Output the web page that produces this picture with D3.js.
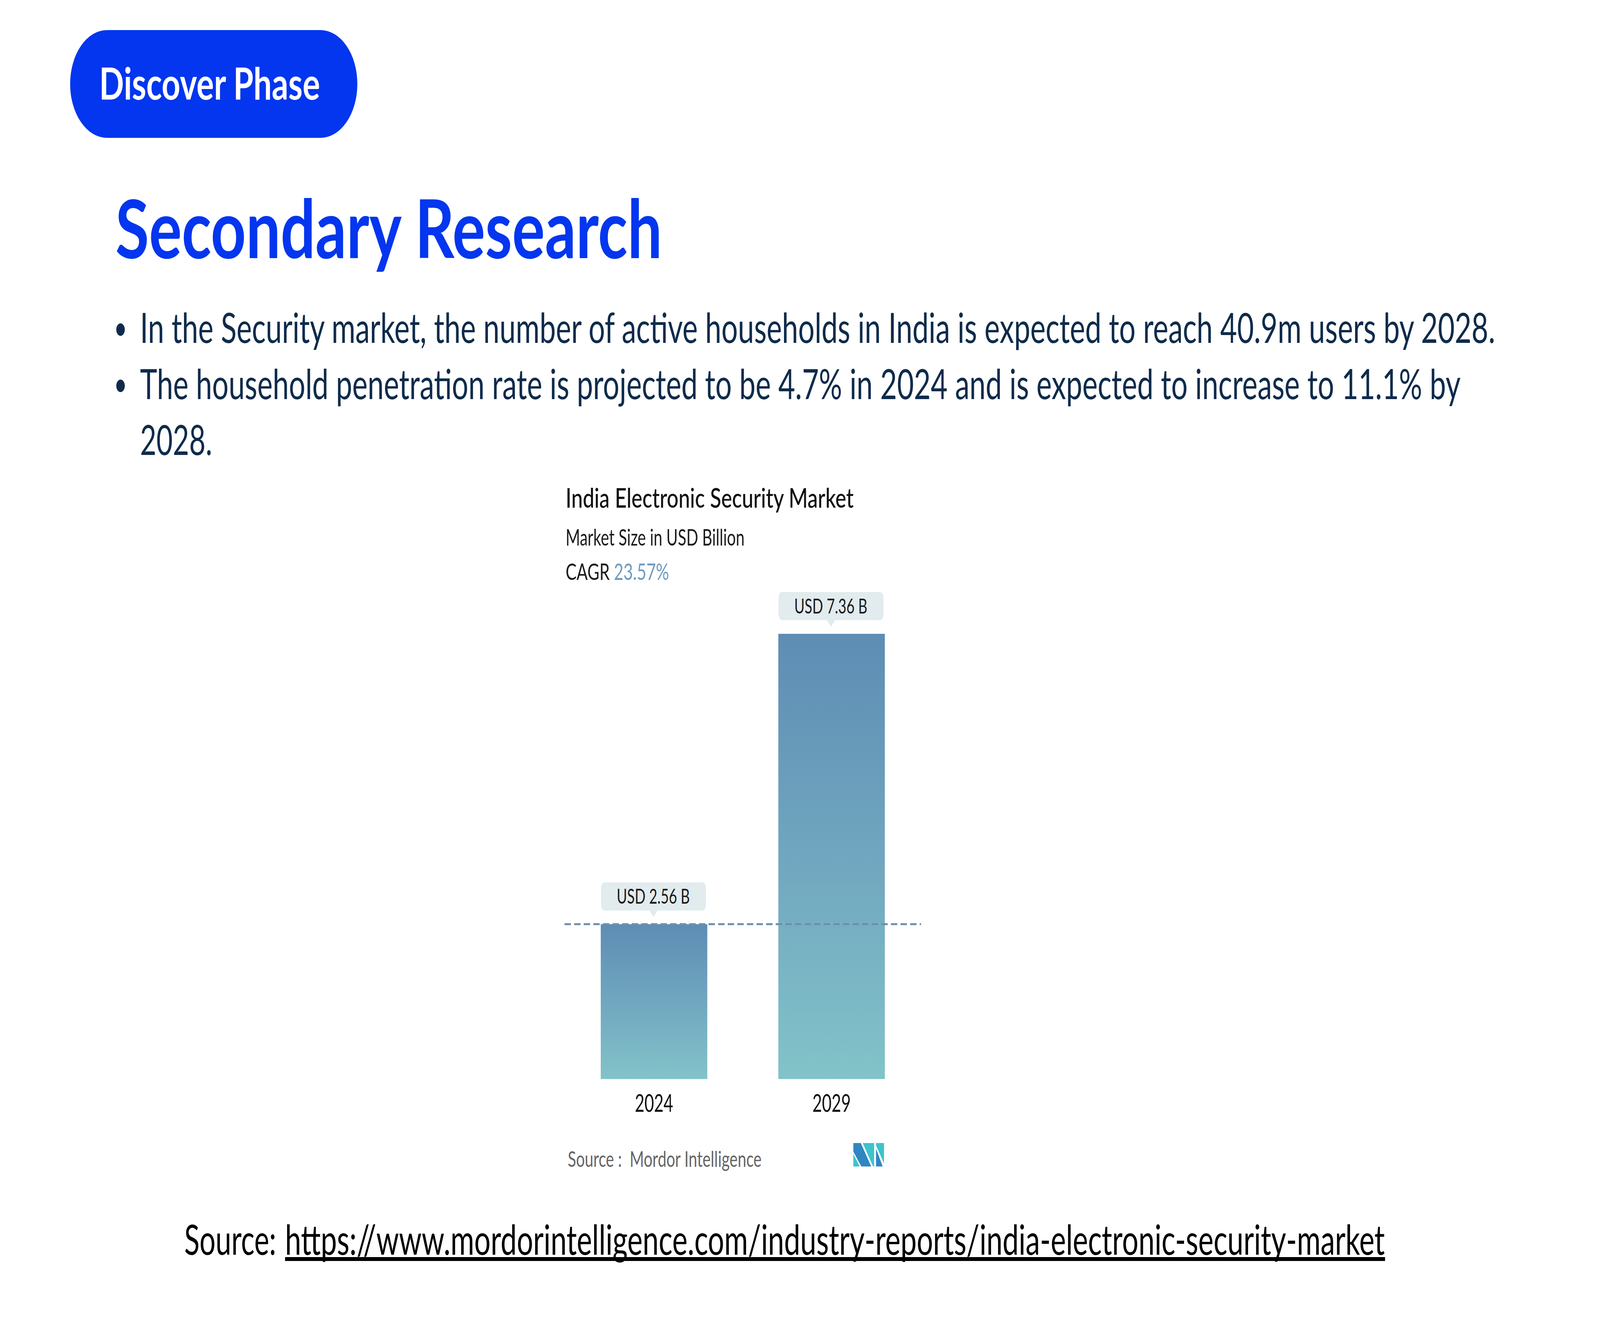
<!DOCTYPE html>
<html>
<head>
<meta charset="utf-8">
<script src="https://cdn.jsdelivr.net/npm/d3@7"></script>
<style>
  html, body { margin: 0; padding: 0; background: #ffffff; width: 100%; height: 100%; overflow: hidden; }
  #chart { width: 100vw; height: 100vh; }
  svg { display: block; width: 100vw; height: 100vh; }
</style>
</head>
<body>
<div id="chart"></div>
<script>
// ---------- data ----------
const pillText = "Discover Phase";
const headingText = "Secondary Research";
const bulletLines = [
  "In the Security market, the number of active households in India is expected to reach 40.9m users by 2028.",
  "The household penetration rate is projected to be 4.7% in 2024 and is expected to increase to 11.1% by",
  "2028."
];
const bulletStarts = [true, true, false];
const chartTitle = "India Electronic Security Market";
const chartSubtitle = "Market Size in USD Billion";
const cagrLabel = "CAGR";
const cagrValue = "23.57%";
const years = ["2024", "2029"];
const values = [2.56, 7.36];
const valueLabels = ["USD 2.56 B", "USD 7.36 B"];
const chartSource = "Source :  Mordor Intelligence";
const footerPrefix = "Source:";
const footerLink = "https://www.mordorintelligence.com/industry-reports/india-electronic-security-market";

// ---------- setup ----------
const W = 6000, H = 3375;
const svg = d3.select("#chart").append("svg")
  .attr("viewBox", `0 0 ${W} ${H}`)
  .attr("preserveAspectRatio", "none");
svg.append("rect").attr("width", W).attr("height", H).attr("fill", "#ffffff");

const BLUE = "#0336ee";
const NAVY = "#0f2b4b";
const BF = "Lato, 'Noto Sans', sans-serif";

// ---------- header pill ----------
svg.append("rect")
  .attr("x", 263).attr("y", 77).attr("width", 1077).attr("height", 276)
  .attr("rx", 138).attr("ry", 138).attr("fill", BLUE);
svg.append("text")
  .attr("x", 372).attr("y", 255)
  .attr("font-family", BF)
  .attr("font-weight", 700).attr("font-size", 113)
  .attr("fill", "#ffffff")
  .attr("textLength", 828).attr("lengthAdjust", "spacingAndGlyphs")
  .text(pillText);

// ---------- heading ----------
svg.append("text")
  .attr("x", 433).attr("y", 661)
  .attr("font-family", BF)
  .attr("font-weight", 700).attr("font-size", 208)
  .attr("fill", BLUE)
  .attr("textLength", 2050).attr("lengthAdjust", "spacingAndGlyphs")
  .text(headingText);

// ---------- bullets ----------
const bulletBase = [878, 1022, 1165];
const bulletWidths = [5082, 4952, null];
bulletLines.forEach((t, i) => {
  const tx = svg.append("text")
    .attr("x", 525).attr("y", bulletBase[i])
    .attr("font-family", BF)
    .attr("font-size", 106)
    .attr("fill", NAVY)
    .text(t);
  if (bulletWidths[i]) tx.attr("textLength", bulletWidths[i]).attr("lengthAdjust", "spacingAndGlyphs");
  if (bulletStarts[i]) {
    svg.append("circle")
      .attr("cx", 452).attr("cy", bulletBase[i] - 34).attr("r", 16)
      .attr("fill", NAVY);
  }
});

// ---------- chart texts ----------
const CF = "Lato, 'Open Sans', sans-serif";
svg.append("text")
  .attr("x", 2121).attr("y", 1300)
  .attr("font-family", CF).attr("font-size", 70).attr("font-weight", 500)
  .attr("fill", "#111111")
  .attr("textLength", 1080).attr("lengthAdjust", "spacingAndGlyphs")
  .text(chartTitle);
svg.append("text")
  .attr("x", 2121).attr("y", 1397)
  .attr("font-family", CF).attr("font-size", 59)
  .attr("fill", "#1c1c1c")
  .attr("textLength", 671).attr("lengthAdjust", "spacingAndGlyphs")
  .text(chartSubtitle);
const cg = svg.append("text")
  .attr("x", 2121).attr("y", 1485)
  .attr("font-family", CF).attr("font-size", 58)
  .attr("fill", "#1c1c1c")
  .attr("textLength", 388).attr("lengthAdjust", "spacingAndGlyphs");
cg.append("tspan").text(cagrLabel + " ");
cg.append("tspan").attr("fill", "#6f9bc0").text(cagrValue);

// ---------- scales ----------
const x = d3.scaleBand()
  .domain(years)
  .range([2117, 3454])
  .paddingInner(0.4)
  .paddingOuter(0.204);
const y = d3.scaleLinear()
  .domain([0, d3.max(values)])
  .range([2763, 1623]);

const defs = svg.append("defs");
const grad = defs.append("linearGradient")
  .attr("id", "barGrad")
  .attr("x1", 0).attr("y1", 0).attr("x2", 0).attr("y2", 1);
grad.append("stop").attr("offset", "0%").attr("stop-color", "#5e8db4");
grad.append("stop").attr("offset", "55%").attr("stop-color", "#72a9c0");
grad.append("stop").attr("offset", "100%").attr("stop-color", "#82c3c9");

const data = years.map((yr, i) => ({ year: yr, value: values[i], label: valueLabels[i] }));

// bars
svg.append("g").selectAll("rect")
  .data(data).join("rect")
  .attr("x", d => x(d.year))
  .attr("y", d => y(d.value))
  .attr("width", x.bandwidth())
  .attr("height", d => y(0) - y(d.value))
  .attr("fill", "url(#barGrad)");

// dashed reference line at first value
svg.append("line")
  .attr("x1", x.range()[0]).attr("x2", x.range()[1])
  .attr("y1", y(values[0])).attr("y2", y(values[0]))
  .attr("stroke", "#6f8fae").attr("stroke-width", 5)
  .attr("stroke-dasharray", "24,12");

// value label callouts
const lab = svg.append("g").selectAll("g")
  .data(data).join("g");
lab.append("rect")
  .attr("x", d => x(d.year) + 1)
  .attr("y", d => y(d.value) - 107)
  .attr("width", x.bandwidth() - 6)
  .attr("height", 72)
  .attr("rx", 14).attr("ry", 14)
  .attr("fill", "#e2ebee");
lab.append("path")
  .attr("d", d => {
    const cx = x(d.year) + x.bandwidth() / 2 - 2;
    const yb = y(d.value) - 36;
    return `M${cx - 16},${yb} L${cx + 16},${yb} L${cx},${yb + 18} Z`;
  })
  .attr("fill", "#e2ebee");
lab.append("text")
  .attr("x", d => x(d.year) + x.bandwidth() / 2 - 3)
  .attr("y", d => y(d.value) - 52)
  .attr("text-anchor", "middle")
  .attr("font-family", CF).attr("font-size", 53)
  .attr("fill", "#1a1a1a")
  .text(d => d.label);

// x axis
const xAxis = svg.append("g")
  .attr("transform", `translate(0,${y(0)})`)
  .call(d3.axisBottom(x).tickSize(0).tickPadding(40));
xAxis.select(".domain").remove();
xAxis.selectAll("text")
  .attr("font-family", CF).attr("font-size", 62)
  .attr("fill", "#111111");

// chart source
svg.append("text")
  .attr("x", 2129).attr("y", 2988)
  .attr("font-family", CF).attr("font-size", 57)
  .attr("fill", "#666666")
  .style("white-space", "pre")
  .attr("textLength", 727).attr("lengthAdjust", "spacingAndGlyphs")
  .text(chartSource);

// logo
const logo = svg.append("g").attr("transform", "translate(3200,2927)");
const DB = "#2f86c2", TL = "#3ec3cb";
const logoShapes = [
  { pts: [[0,28],[0,60],[24,60]], c: TL },
  { pts: [[0,0],[28,0],[67,60],[30,60],[0,22]], c: DB },
  { pts: [[35,0],[78,0],[78,60],[74,60]], c: TL },
  { pts: [[85,0],[115,0],[115,52],[85,6]], c: TL },
  { pts: [[85,14],[110,60],[85,60]], c: DB }
];
logo.selectAll("polygon").data(logoShapes).join("polygon")
  .attr("points", d => d.pts.map(p => p.join(",")).join(" "))
  .attr("fill", d => d.c);

// footer source
svg.append("text")
  .attr("x", 691).attr("y", 3213)
  .attr("font-family", BF)
  .attr("font-size", 106)
  .attr("fill", "#000000")
  .text(footerPrefix);
svg.append("text")
  .attr("x", 1069).attr("y", 3213)
  .attr("font-family", BF)
  .attr("font-size", 106)
  .attr("fill", "#000000")
  .attr("textLength", 4124).attr("lengthAdjust", "spacingAndGlyphs")
  .text(footerLink);
svg.append("rect")
  .attr("x", 1069).attr("y", 3219).attr("width", 4125).attr("height", 10)
  .attr("fill", "#000000");
</script>
</body>
</html>
